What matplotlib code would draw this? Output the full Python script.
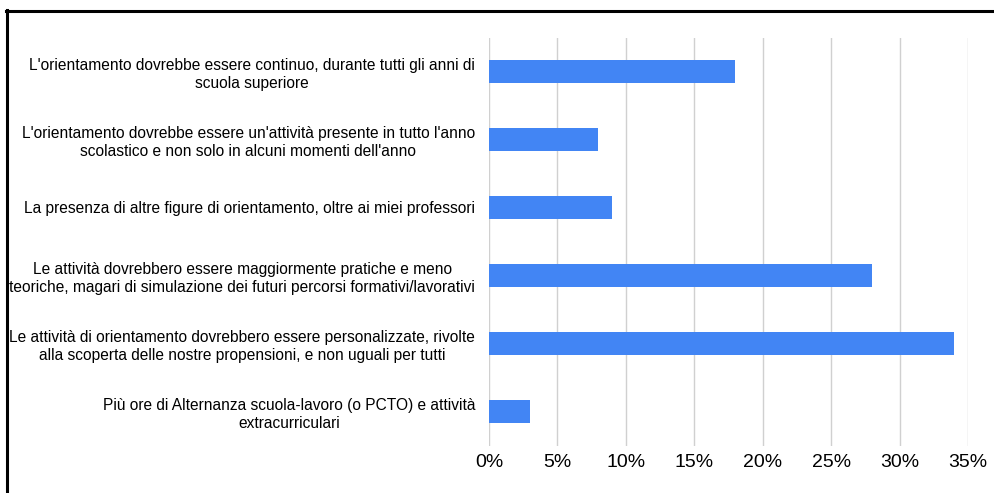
import matplotlib
matplotlib.use("Agg")
import matplotlib.pyplot as plt
from matplotlib.lines import Line2D
from matplotlib.ticker import FuncFormatter

plt.rcParams['font.family'] = ['Liberation Sans', 'DejaVu Sans']

labels = [
    "L'orientamento dovrebbe essere continuo, durante tutti gli anni di\nscuola superiore",
    "L'orientamento dovrebbe essere un'attività presente in tutto l'anno\nscolastico e non solo in alcuni momenti dell'anno",
    "La presenza di altre figure di orientamento, oltre ai miei professori",
    "Le attività dovrebbero essere maggiormente pratiche e meno\nteoriche, magari di simulazione dei futuri percorsi formativi/lavorativi",
    "Le attività di orientamento dovrebbero essere personalizzate, rivolte\nalla scoperta delle nostre propensioni, e non uguali per tutti",
    "Più ore di Alternanza scuola-lavoro (o PCTO) e attività\nextracurriculari",
]
values = [18, 8, 9, 28, 34, 3]
xticks = [0, 5, 10, 15, 20, 25, 30, 35]

fig = plt.figure(figsize=(9.94, 4.93), dpi=100)
ax = fig.add_axes([489 / 994, 1 - 445.5 / 493, (968 - 489) / 994, (445.5 - 37.5) / 493])

pos = list(range(len(labels)))
ax.barh(pos, values, height=0.345, color='#4285f4', zorder=3)
ax.set_ylim(len(labels) - 0.5, -0.5)
ax.set_xlim(0, 35)

ax.set_xticks(xticks)
ax.xaxis.set_major_formatter(FuncFormatter(lambda v, p: f"{v:.0f}%"))
ax.set_yticks(pos)
ax.set_yticklabels(labels, fontsize=11.2, linespacing=1.25)
for t in ax.get_yticklabels():
    t.set_multialignment('center')
ax.tick_params(axis='y', length=0, pad=10)
ax.tick_params(axis='x', length=0, pad=6, labelsize=14)

ax.grid(axis='x', color='#d0d0d0', linewidth=1, zorder=0)
for s in ax.spines.values():
    s.set_visible(False)

# outer frame (clipped on right and bottom)
fig.add_artist(Line2D([6.5 / 994, 6.5 / 994], [1 - 10 / 493, 0], color='black', linewidth=2.2,
                      transform=fig.transFigure))
fig.add_artist(Line2D([5.5 / 994, 1], [1 - 11 / 493, 1 - 11 / 493], color='black', linewidth=2.2,
                      transform=fig.transFigure))

fig.savefig("out.png", dpi=100)
